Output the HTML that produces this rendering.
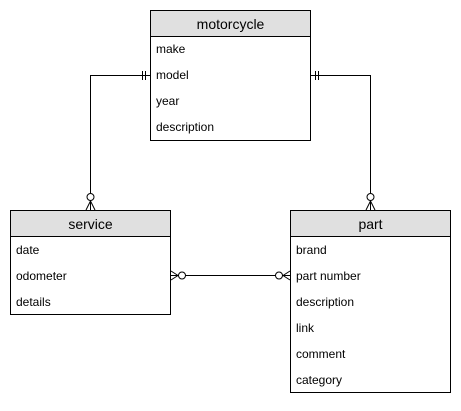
<!DOCTYPE html>
<html><head><style>
body{margin:0;background:#fff;}
svg text{font-family:"Liberation Sans",Arial,sans-serif;}
</style></head><body>
<svg width="461" height="406" xmlns="http://www.w3.org/2000/svg">
<g fill="none" stroke="#000" stroke-width="1">
<!-- motorcycle -->
<rect x="150.5" y="10.5" width="160" height="130" fill="#fff"/>
<rect x="150.5" y="10.5" width="160" height="26" fill="#e0e0e0"/>
<!-- service -->
<rect x="10.5" y="210.5" width="160" height="104" fill="#fff"/>
<rect x="10.5" y="210.5" width="160" height="26" fill="#e0e0e0"/>
<!-- part -->
<rect x="290.5" y="210.5" width="160" height="182" fill="#fff"/>
<rect x="290.5" y="210.5" width="160" height="26" fill="#e0e0e0"/>
<!-- left connector -->
<path d="M150 75.5H90.5V193"/>
<path d="M142.5 71v9M145.5 71v9"/>
<circle cx="90.5" cy="197" r="3.5" fill="#fff"/>
<path d="M90.5 201L86 210M90.5 201L95 210M90.5 201V210"/>
<!-- right connector -->
<path d="M311 75.5H370.5V193"/>
<path d="M315.5 71v9M318.5 71v9"/>
<circle cx="370.5" cy="197" r="3.5" fill="#fff"/>
<path d="M370.5 201L366 210M370.5 201L375 210M370.5 201V210"/>
<!-- horizontal -->
<path d="M171 275.5H290"/>
<circle cx="182" cy="275.5" r="3.5" fill="#fff"/>
<path d="M178 275.5L171 271M178 275.5L171 280"/>
<circle cx="279" cy="275.5" r="3.5" fill="#fff"/>
<path d="M283 275.5L290 271M283 275.5L290 280"/>
</g>
<g font-size="14" fill="#000" text-anchor="middle">
<text x="230.5" y="29">motorcycle</text>
<text x="90.5" y="229">service</text>
<text x="370.5" y="229">part</text>
</g>
<g font-size="12" fill="#000">
<text x="156" y="53">make</text>
<text x="156" y="79">model</text>
<text x="156" y="105">year</text>
<text x="156" y="131">description</text>
<text x="16" y="254">date</text>
<text x="16" y="280">odometer</text>
<text x="16" y="306">details</text>
<text x="296" y="254">brand</text>
<text x="296" y="280">part number</text>
<text x="296" y="306">description</text>
<text x="296" y="332">link</text>
<text x="296" y="358">comment</text>
<text x="296" y="384">category</text>
</g>
</svg>
</body></html>
